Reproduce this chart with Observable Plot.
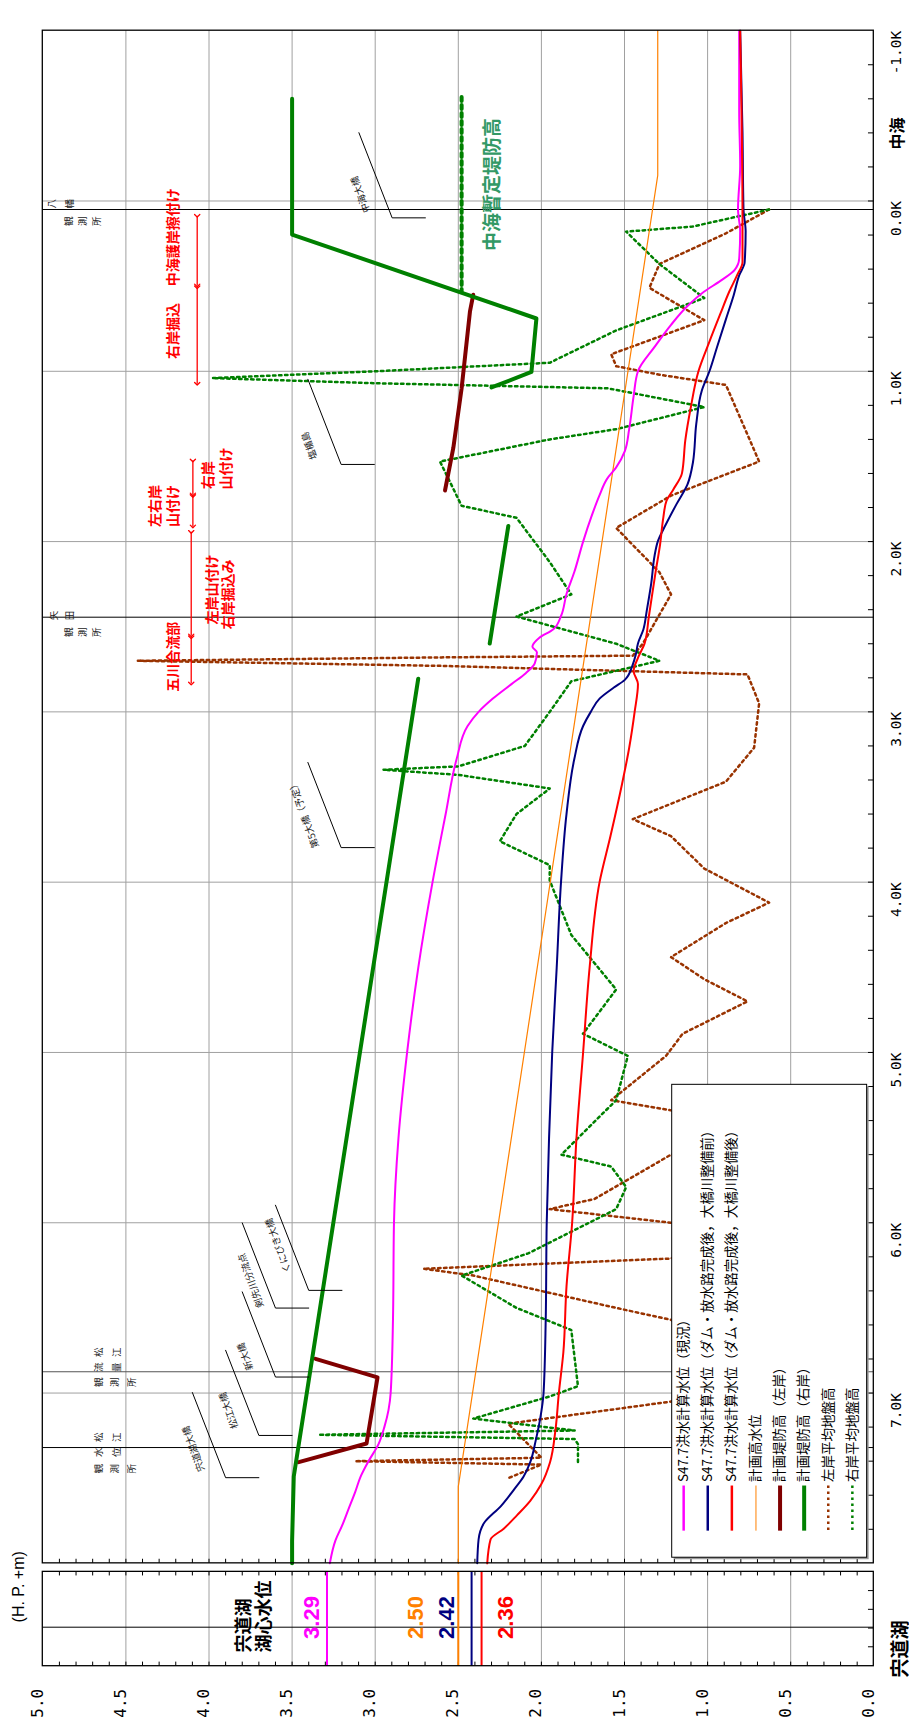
<!DOCTYPE html>
<html><head><meta charset="utf-8">
<script src="https://cdn.jsdelivr.net/npm/d3@7"></script>
<script src="https://cdn.jsdelivr.net/npm/@observablehq/plot@0.6"></script>
<style>
html,body{margin:0;padding:0;background:#fff;overflow:hidden}
#chart svg{display:block}
</style></head><body><div id="chart"></div>
<script>
// ---------- axes ----------
const valueTicks = [5.0,4.5,4.0,3.5,3.0,2.5,2.0,1.5,1.0,0.5,0.0];
const distTicks = [-1,0,1,2,3,4,5,6,7];
const distLabels = ["-1.0K","0.0K","1.0K","2.0K","3.0K","4.0K","5.0K","6.0K","7.0K"];
const gridV = [0.5,1.0,1.5,2.0,2.5,3.0,3.5,4.0,4.5];
const gridD = [0,1,2,3,4,5,6,7];

// ---------- series: [distance(K), water level(H.P.+m)] ----------
const magenta = [[8.0,3.273],[7.865,3.239],[7.78,3.20],[7.68,3.16],[7.58,3.12],[7.494,3.089],[7.40,3.04],[7.30,2.98],[7.20,2.945],[7.10,2.92],[7.0,2.907],[6.568,2.893],[6.0,2.887],[5.503,2.860],[5.0,2.808],[4.503,2.741],[4.0,2.655],[3.600,2.576],[3.277,2.510],[3.083,2.444],[3.0,2.378],[2.922,2.292],[2.837,2.180],[2.773,2.094],[2.715,2.040],[2.650,2.027],[2.618,2.054],[2.566,2.014],[2.515,1.928],[2.437,1.882],[2.308,1.849],[2.179,1.802],[2.0,1.749],[1.845,1.696],[1.727,1.650],[1.630,1.604],[1.566,1.551],[1.469,1.498],[1.340,1.472],[1.146,1.445],[1.0,1.419],[0.857,1.319],[0.727,1.220],[0.617,1.121],[0.533,1.022],[0.469,0.923],[0.404,0.837],[0.340,0.810],[0.178,0.804],[0.049,0.817],[-0.209,0.804],[-0.532,0.810],[-1.0,0.810]];
const navy = [[8.0,2.386],[7.86,2.378],[7.762,2.344],[7.665,2.245],[7.568,2.166],[7.490,2.107],[7.406,2.067],[7.278,2.034],[7.149,2.007],[7.0,1.987],[6.568,1.974],[6.0,1.968],[5.503,1.954],[5.0,1.935],[4.503,1.908],[4.0,1.882],[3.600,1.849],[3.277,1.802],[3.083,1.749],[3.0,1.703],[2.922,1.650],[2.857,1.564],[2.812,1.498],[2.727,1.452],[2.663,1.432],[2.598,1.419],[2.515,1.386],[2.405,1.366],[2.244,1.339],[2.083,1.319],[2.0,1.300],[1.903,1.253],[1.780,1.187],[1.664,1.121],[1.534,1.088],[1.308,1.068],[1.114,1.035],[1.0,0.989],[0.857,0.943],[0.695,0.890],[0.553,0.843],[0.437,0.810],[0.360,0.777],[0.178,0.771],[0.049,0.784],[-0.403,0.790],[-1.0,0.804]];
const red = [[8.0,2.326],[7.86,2.306],[7.795,2.225],[7.717,2.146],[7.633,2.067],[7.536,2.001],[7.406,1.948],[7.213,1.915],[7.0,1.895],[6.762,1.868],[6.375,1.849],[6.0,1.815],[5.503,1.789],[5.0,1.749],[4.503,1.710],[4.0,1.650],[3.728,1.584],[3.438,1.518],[3.212,1.472],[3.0,1.439],[2.837,1.419],[2.760,1.445],[2.683,1.419],[2.598,1.379],[2.437,1.353],[2.179,1.313],[2.018,1.286],[1.856,1.266],[1.760,1.247],[1.695,1.207],[1.598,1.154],[1.404,1.134],[1.211,1.101],[1.0,1.055],[0.826,0.989],[0.662,0.923],[0.533,0.870],[0.437,0.823],[0.360,0.790],[0.114,0.790],[-1.0,0.804]];
const orangePlan = [[8.0,2.50],[7.55,2.50],[-0.15,1.30],[-1.0,1.30]];
const maroonA = [[6.799,3.359],[6.908,2.986],[7.296,3.052],[7.406,3.460]];
const maroonB = [[0.55,2.41],[0.65,2.43],[1.10,2.48],[1.45,2.53],[1.70,2.58]];
const greenA = [[8.0,3.50],[7.87,3.50],[7.49,3.49],[2.805,2.741]];
const greenB = [[1.908,2.199],[2.599,2.311]];
const greenC = [[-0.60,3.50],[0.197,3.50],[0.69,2.03],[1.004,2.06],[1.095,2.30]];
const nakaumiTemp = [[-0.61,2.48],[0.53,2.48]];
const brownGround = [[0.05,0.63],[0.19,0.89],[0.37,1.29],[0.51,1.35],[0.70,1.02],[0.90,1.58],[0.97,1.55],[1.02,1.29],[1.08,0.89],[1.53,0.69],[1.73,1.22],[1.92,1.55],[2.18,1.29],[2.31,1.22],[2.60,1.39],[2.67,1.45],[2.68,2.6],[2.70,4.43],[2.73,2.6],[2.78,0.76],[2.95,0.69],[3.21,0.72],[3.41,0.89],[3.63,1.45],[3.73,1.22],[3.92,1.02],[4.12,0.63],[4.24,0.89],[4.44,1.22],[4.57,1.02],[4.70,0.76],[4.89,1.15],[5.02,1.25],[5.28,1.58],[5.34,1.22],[5.47,0.80],[5.60,1.22],[5.86,1.68],[5.92,1.95],[6.0,1.22],[6.10,0.95],[6.21,1.22],[6.27,2.71],[6.31,2.41],[6.50,1.55],[6.57,1.22],[6.89,0.80],[7.05,1.22],[7.18,2.20],[7.38,2.00],[7.40,3.12],[7.42,2.00],[7.50,2.20]];
const greenGround = [[0.05,0.63],[0.15,1.09],[0.18,1.49],[0.37,1.29],[0.57,1.02],[0.76,1.55],[0.95,1.95],[1.00,3.0],[1.04,3.98],[1.07,3.0],[1.10,1.6],[1.21,1.02],[1.34,1.55],[1.40,1.95],[1.53,2.61],[1.79,2.48],[1.86,2.15],[2.12,1.95],[2.31,1.82],[2.44,2.15],[2.60,1.55],[2.70,1.29],[2.82,1.82],[3.0,1.95],[3.20,2.10],[3.32,2.50],[3.34,2.95],[3.37,2.50],[3.45,1.95],[3.60,2.15],[3.76,2.25],[3.90,1.95],[3.99,1.95],[4.31,1.82],[4.63,1.55],[4.89,1.75],[5.02,1.48],[5.28,1.55],[5.60,1.88],[5.67,1.58],[5.79,1.49],[5.92,1.55],[6.18,2.08],[6.31,2.48],[6.50,2.15],[6.63,1.82],[6.96,1.78],[7.02,1.95],[7.15,2.41],[7.22,1.80],[7.245,3.34],[7.27,1.80],[7.30,1.78],[7.42,1.78]];

// lake (宍道湖湖心水位)
const lakeLabels = ["3.29","2.50","2.42","2.36"];
const lakeValues = [3.29,2.50,2.42,2.36];
const lakeColors = ["#ff00ff","#ff8000","#000080","#ff0000"];
const lakeLabelV = [3.382,2.757,2.566,2.216];

// stations
const stationNames = ["八幡観測所","矢田観測所","松江流量観測所","松江水位観測所"];
const stationD = [0.05,2.444,6.875,7.32];
const stationColor = ["#000","#000","#555","#000"];
const stationRows = [
  {t:"八幡",d:0.016,v0:4.944,step:0.106},{t:"観測所",d:0.119,v0:4.844,step:0.0855},
  {t:"矢田",d:2.434,v0:4.934,step:0.096},{t:"観測所",d:2.532,v0:4.844,step:0.0855},
  {t:"松江",d:6.760,v0:4.663,step:0.11},{t:"流量",d:6.848,v0:4.663,step:0.11},{t:"観測所",d:6.936,v0:4.663,step:0.1},
  {t:"松江",d:7.259,v0:4.663,step:0.11},{t:"水位",d:7.347,v0:4.663,step:0.11},{t:"観測所",d:7.444,v0:4.663,step:0.1}
];

// bridges
const bridgeNames = ["中海大橋","塩楯島","第5大橋（予定）","くにびき大橋","剣先川分流点","新大橋","松江大橋","宍道湖大橋"];
const bridgeD = [0.099,1.547,3.797,6.397,6.501,6.906,7.249,7.497];
const bridgeV = [2.898,3.205,3.205,3.40,3.60,3.60,3.70,3.90];
const bridgeLabelV = [3.087,3.395,3.429,3.582,3.747,3.78,3.881,4.091];
const bridgeLabelD = [-0.038,1.436,3.598,6.133,6.339,6.785,7.102,7.327];

// red notes
const noteTexts = ["中海護岸擦付け","右岸掘込","右岸","山付け","左右岸","山付け","左岸山付け","右岸掘込み","五川合流部"];
const noteV = [4.212,4.212,4.001,3.895,4.322,4.212,3.981,3.881,4.212];
const noteD = [0.213,0.763,1.61,1.571,1.791,1.791,2.281,2.311,2.677];
const arrowV = [4.071,4.071,4.097,4.097,4.107,4.107];
const arrowD1 = [0.087,0.507,1.524,1.733,1.943,2.562];
const arrowD2 = [0.496,1.073,1.723,1.911,2.551,2.834];

// legend
const legendLabels = ["S47.7洪水計算水位（現況）","S47.7洪水計算水位（ダム・放水路完成後，大橋川整備前）","S47.7洪水計算水位（ダム・放水路完成後，大橋川整備後）","計画高水位","計画堤防高（左岸）","計画堤防高（右岸）","左岸平均地盤高","右岸平均地盤高"];
const legendColors = ["#ff00ff","#000080","#ff0000","#ff8000","#800000","#008000","#993300","#008000"];
const legendWidths = [2.5,2.5,2.5,1,4,4,2.5,2.5];
const legendDash = [null,null,null,null,null,null,"2.5,3.5","2.5,3.5"];

// ---------- build ----------
const pts = a => a.map(([d,v]) => ({d,v}));
const JP = "'Noto Sans CJK JP','Noto Sans',sans-serif";
const MONO = "'DejaVu Sans Mono','Liberation Mono',monospace";

const minorV = d3.range(1,50).map(i => i/10);
const minorD = d3.range(-4,40).map(i => i/5);

const stationGlyphs = stationRows.flatMap(r => Array.from(r.t).map((c,i) => ({c, d:r.d, v:r.v0 - i*r.step})));
const bridges = bridgeNames.map((n,i) => ({n, d:bridgeD[i], v:bridgeV[i], lv:bridgeLabelV[i], ld:bridgeLabelD[i]}));
const leaderPts = bridges.flatMap(b => [{n:b.n, v:b.v+0.2, d:b.d-0.5},{n:b.n, v:b.v, d:b.d},{n:b.n, v:b.v-0.2, d:b.d}]);
const notes = noteTexts.map((t,i) => ({t, v:noteV[i], d:noteD[i]}));
const arrows = arrowV.map((v,i) => ({v, d1:arrowD1[i], d2:arrowD2[i]}));
const lake = lakeValues.map((v,i) => ({v, lab:lakeLabels[i], lv:lakeLabelV[i], c:lakeColors[i]}));
const legend = legendLabels.map((l,i) => ({l, v:1.144 - i*0.145, c:legendColors[i], w:legendWidths[i], dash:legendDash[i]}));

const marks = [];
// grids
marks.push(Plot.ruleX(gridV, {y1:-1, y2:8.0, stroke:"#a0a0a0", strokeWidth:1}));
marks.push(Plot.ruleX(gridV, {y1:8.05, y2:8.604, stroke:"#a0a0a0", strokeWidth:1}));
marks.push(Plot.ruleY(gridD, {x1:5, x2:0, stroke:"#a0a0a0", strokeWidth:1}));
stationD.forEach((d,i) => marks.push(Plot.ruleY([d], {x1:5, x2:0, stroke:stationColor[i], strokeWidth:1})));
marks.push(Plot.ruleY([8.375], {x1:5, x2:0, stroke:"#000", strokeWidth:1}));
// ticks
marks.push(Plot.ruleX(minorV, {y1:8.0, y2:7.976, stroke:"#000"}));
marks.push(Plot.ruleX(minorV, {y1:8.05, y2:8.074, stroke:"#000"}));
marks.push(Plot.ruleX(minorV, {y1:8.604, y2:8.58, stroke:"#000"}));
marks.push(Plot.ruleY(minorD, {x1:0, x2:0.032, stroke:"#000"}));
marks.push(Plot.ruleY([8.16,8.27,8.38,8.49], {x1:0, x2:0.032, stroke:"#000"}));

// ground heights (dotted)
marks.push(Plot.line(pts(brownGround), {x:"v", y:"d", stroke:"#993300", strokeWidth:2.5, strokeDasharray:"2.5,3.5"}));
marks.push(Plot.line(pts(greenGround), {x:"v", y:"d", stroke:"#008000", strokeWidth:2.5, strokeDasharray:"2.5,3.5"}));
// plan water level
marks.push(Plot.line(pts(orangePlan), {x:"v", y:"d", stroke:"#ff8000", strokeWidth:1.2}));
// computed water levels
marks.push(Plot.line(pts(magenta), {x:"v", y:"d", stroke:"#ff00ff", strokeWidth:2, curve:"monotone-y"}));
marks.push(Plot.line(pts(navy), {x:"v", y:"d", stroke:"#000080", strokeWidth:2, curve:"monotone-y"}));
marks.push(Plot.line(pts(red), {x:"v", y:"d", stroke:"#ff0000", strokeWidth:2, curve:"monotone-y"}));
// dikes
marks.push(Plot.line(pts(maroonA), {x:"v", y:"d", stroke:"#800000", strokeWidth:4}));
marks.push(Plot.line(pts(maroonB), {x:"v", y:"d", stroke:"#800000", strokeWidth:4}));
marks.push(Plot.line(pts(greenA), {x:"v", y:"d", stroke:"#008000", strokeWidth:4}));
marks.push(Plot.line(pts(greenB), {x:"v", y:"d", stroke:"#008000", strokeWidth:4}));
marks.push(Plot.line(pts(greenC), {x:"v", y:"d", stroke:"#008000", strokeWidth:4}));
marks.push(Plot.line(pts(nakaumiTemp), {x:"v", y:"d", stroke:"#008000", strokeWidth:4, strokeDasharray:"4,4"}));
marks.push(Plot.text(["中海暫定堤防高"], {x:2.29, y:-0.097, text:d=>d, rotate:-90, fill:"#339966", fontSize:19, fontWeight:"bold", fontFamily:JP}));

// lake panel
marks.push(Plot.ruleX(lake, {x:"v", y1:8.05, y2:8.604, stroke:"c", strokeWidth:2}));
marks.push(Plot.text(lake, {x:"lv", y:8.318, text:"lab", fill:"c", rotate:-90, fontSize:22, fontWeight:"bold", fontFamily:"'Liberation Sans',Arial,sans-serif"}));
marks.push(Plot.text(["宍道湖"], {x:3.79, y:8.523, text:d=>d, rotate:-90, textAnchor:"start", fontSize:18, fontWeight:"bold", fontFamily:JP}));
marks.push(Plot.text(["湖心水位"], {x:3.67, y:8.523, text:d=>d, rotate:-90, textAnchor:"start", fontSize:18, fontWeight:"bold", fontFamily:JP}));

// stations
marks.push(Plot.text(stationGlyphs, {x:"v", y:"d", text:"c", rotate:-90, fontSize:9.5, fill:"#222", fontFamily:JP}));
// bridges
marks.push(Plot.line(leaderPts, {x:"v", y:"d", z:"n", stroke:"#000", strokeWidth:1}));
marks.push(Plot.text(bridges, {x:"lv", y:"ld", text:"n", rotate:-110, fontSize:9.5, fill:"#222", fontFamily:JP}));
// red notes
marks.push(Plot.link(arrows, {x1:"v", x2:"v", y1:"d1", y2:"d2", stroke:"#ff0000", strokeWidth:1.3, markerStart:"arrow", markerEnd:"arrow"}));
marks.push(Plot.text(notes, {x:"v", y:"d", text:"t", rotate:-90, fill:"#ff0000", fontSize:14, fontWeight:"bold", fontFamily:JP}));

// legend
marks.push(Plot.rect([0], {x1:1.213, x2:0.04, y1:5.19, y2:7.967, fill:"#999", dx:2, dy:2}));
marks.push(Plot.rect([0], {x1:1.213, x2:0.04, y1:5.19, y2:7.967, fill:"#fff", stroke:"#000", strokeWidth:1}));
legend.forEach(e => marks.push(Plot.link([e], {x1:"v", x2:"v", y1:7.543, y2:7.808, stroke:e.c, strokeWidth:e.w, strokeDasharray:e.dash})));
marks.push(Plot.text(legend, {x:"v", y:7.523, text:"l", rotate:-90, textAnchor:"start", fontSize:13.5, fill:"#000", fontFamily:JP}));

// frames
marks.push(Plot.rect([0], {x1:5, x2:0, y1:-1, y2:8.0, fill:"none", stroke:"#000", strokeWidth:1.3}));
marks.push(Plot.rect([0], {x1:5, x2:0, y1:8.05, y2:8.604, fill:"none", stroke:"#000", strokeWidth:1.3}));

// axis labels
marks.push(Plot.text(valueTicks, {x:d=>d, frameAnchor:"bottom", dy:37, text:d=>d.toFixed(1), rotate:-90, fontSize:16, fill:"#000", fontFamily:MONO}));
marks.push(Plot.text(distTicks, {y:d=>d, frameAnchor:"right", dx:23, text:(d,i)=>distLabels[i], rotate:-90, fontSize:14.5, fill:"#000", fontFamily:MONO}));
marks.push(Plot.text(["中海"], {y:-0.49, frameAnchor:"right", dx:24, text:d=>d, rotate:-90, fontSize:16, fontWeight:"bold", fontFamily:JP}));
marks.push(Plot.text(["宍道湖"], {y:8.335, frameAnchor:"right", dx:27, text:d=>d, rotate:-90, fontSize:19, fontWeight:"bold", fontFamily:JP}));
marks.push(Plot.text(["(H. P. +m)"], {y:8.347, frameAnchor:"left", dx:-24, text:d=>d, rotate:-90, fontSize:16, fontFamily:"'Liberation Sans',Arial,sans-serif"}));

const chart = Plot.plot({
  width: 909, height: 1724,
  marginLeft: 42.3, marginRight: 35.7, marginTop: 30.2, marginBottom: 58.3,
  x: {domain:[5,0], axis:null},
  y: {domain:[-1, 8.604], reverse:true, axis:null},
  style: {background:"#fff", overflow:"visible"},
  marks
});
document.getElementById("chart").appendChild(chart);
</script></body></html>
